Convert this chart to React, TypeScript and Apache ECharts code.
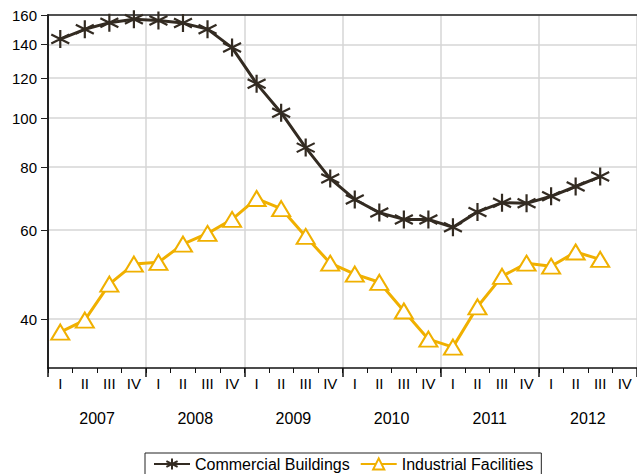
import React, { useEffect, useRef } from "react";
import * as echarts from "echarts";

const quarters = ["I", "II", "III", "IV"];
const years = ["2007", "2008", "2009", "2010", "2011", "2012"];
const categories = years.flatMap((y) => quarters.map((q) => `${q} ${y}`));
const yTicks = [40, 60, 80, 100, 120, 140, 160];

const commercial = [
  143.4, 149.9, 154.5, 156.9,
  156.0, 154.2, 150.0, 137.9,
  117.0, 102.5, 87.4, 75.9,
  69.0, 65.0, 63.0, 63.0,
  60.8, 65.2, 68.0, 67.8,
  70.0, 73.2, 76.6,
];
const industrial = [
  37.7, 39.8, 46.9, 51.4,
  51.8, 56.3, 59.1, 63.0,
  69.3, 66.2, 58.3, 51.6,
  49.1, 47.3, 41.5, 36.5,
  35.2, 42.3, 48.6, 51.6,
  50.9, 54.3, 52.5,
];

const DARK = "#332b22";
const YELLOW = "#f0b000";
const FONT = "Liberation Sans, Arial, sans-serif";
const asterisk = "path://M0,-10 L0,10 M-8.66,-5 L8.66,5 M-8.66,5 L8.66,-5";

export default function App() {
  const ref = useRef<HTMLDivElement>(null);
  useEffect(() => {
    if (!ref.current) return;
    const chart = echarts.init(ref.current, null, { renderer: "svg" });
    chart.setOption({
      animation: false,
      textStyle: { fontFamily: FONT },
      grid: { left: 48, right: 0, top: 15, bottom: 106, containLabel: false },
      xAxis: [
        {
          type: "category",
          data: categories,
          boundaryGap: true,
          axisLine: { show: true, lineStyle: { color: "#111", width: 1.5 } },
          axisTick: { show: true, interval: 0, length: 5, lineStyle: { color: "#111" } },
          axisLabel: {
            interval: 0,
            margin: 8,
            color: "#000",
            fontSize: 15,
            fontFamily: FONT,
            formatter: (v: string) => v.split(" ")[0],
          },
          splitLine: { show: false },
        },
        {
          type: "category",
          data: years,
          position: "bottom",
          boundaryGap: true,
          axisLine: { show: false },
          axisTick: { show: true, interval: 0, length: 9, lineStyle: { color: "#111", width: 1.5 } },
          axisLabel: { interval: 0, margin: 42, color: "#000", fontSize: 16, fontFamily: FONT },
          splitLine: { show: true, interval: 0, lineStyle: { color: "#d6d6d6", width: 1.5 } },
        },
        {
          type: "category",
          data: years,
          position: "top",
          axisLine: { show: true, lineStyle: { color: "#222", width: 1.5 } },
          axisTick: { show: false },
          axisLabel: { show: false },
          splitLine: { show: false },
        },
      ],
      yAxis: {
        type: "log",
        logBase: 10,
        min: 32,
        max: 160,
        axisLine: { show: true, lineStyle: { color: "#222", width: 2 } },
        axisTick: { show: true, length: 7, customValues: yTicks, lineStyle: { color: "#222" } },
        axisLabel: {
          customValues: yTicks,
          margin: 11,
          color: "#000",
          fontSize: 15,
          fontFamily: FONT,
          formatter: (v: number) => String(Math.round(v)),
        },
        splitLine: { show: true, lineStyle: { color: "#d6d6d6", width: 1.5 } },
      },
      legend: {
        top: 453,
        left: 145,
        itemWidth: 36,
        itemHeight: 14,
        itemGap: 10,
        padding: [3, 8, 3, 8],
        borderColor: "#222",
        borderWidth: 1,
        textStyle: { fontSize: 16, color: "#000", fontFamily: FONT },
        data: ["Commercial Buildings", "Industrial Facilities"],
      },
      series: [
        {
          name: "Commercial Buildings",
          type: "line",
          data: commercial,
          symbol: asterisk,
          symbolSize: 18,
          lineStyle: { color: DARK, width: 3 },
          itemStyle: { color: DARK, borderColor: DARK, borderWidth: 2.2 },
          z: 3,
        },
        {
          name: "Industrial Facilities",
          type: "line",
          data: industrial,
          symbol: "triangle",
          symbolSize: [18, 15],
          lineStyle: { color: YELLOW, width: 3 },
          itemStyle: { color: "#fff", borderColor: YELLOW, borderWidth: 2 },
          z: 2,
        },
      ],
    });
    return () => chart.dispose();
  }, []);
  return (
    <div
      ref={ref}
      style={{ position: "absolute", left: 0, top: 0, width: 637, height: 474 }}
    />
  );
}
